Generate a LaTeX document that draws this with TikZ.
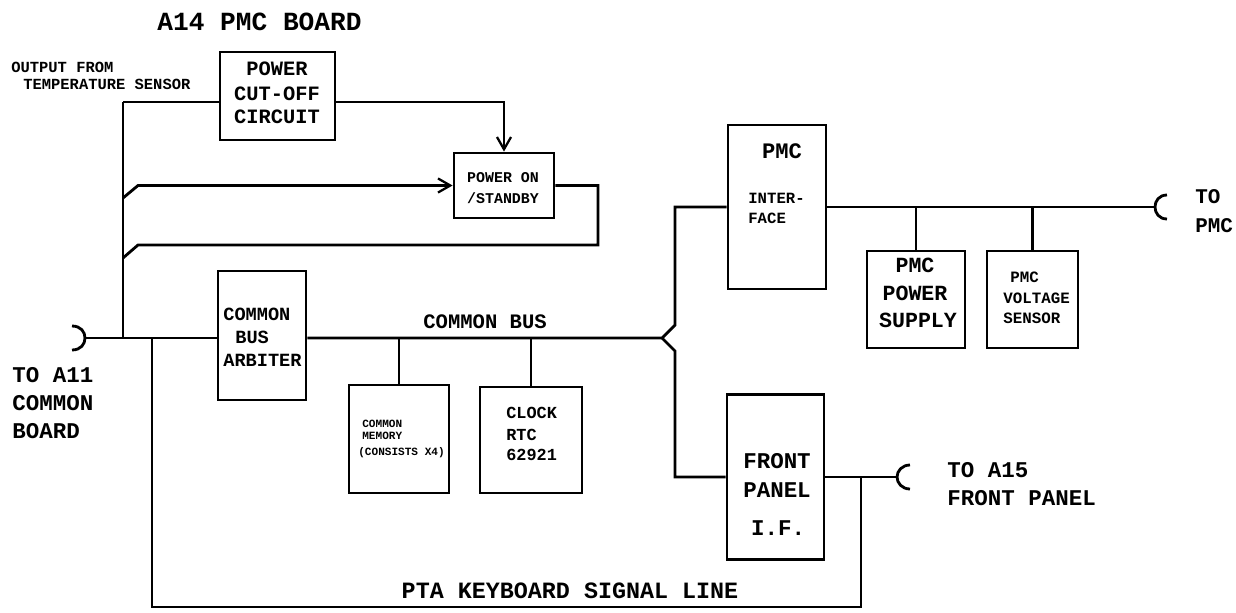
\documentclass[tikz,border=0pt]{standalone}
\usepackage{fontspec}
\setmonofont{Liberation Mono}
\usetikzlibrary{arrows.meta}
\tikzset{
  wire/.style={line width=1.6pt, line join=miter},
  box/.style={draw, line width=1.6pt, inner sep=0pt},
  tl/.style={inner sep=0pt, anchor=base west, font=\ttfamily\bfseries\fontsize{#1}{#1}\selectfont},
  tc/.style={inner sep=0pt, anchor=base, font=\ttfamily\bfseries\fontsize{#1}{#1}\selectfont},
  arr/.style={-{Straight Barb[length=7pt,width=8pt,line width=1.3pt]}}
}
\begin{document}
\begin{tikzpicture}[x=0.02cm,y=-0.02cm]
\useasboundingbox (0,0) rectangle (1236,612);

% boxes
\node[box, minimum width=2.3cm, minimum height=1.76cm] (cut) at (277.5,96) {};
\node[box, minimum width=2.0cm, minimum height=1.3cm] (pon) at (504,185.5) {};
\node[box, minimum width=1.76cm, minimum height=2.58cm] (arb) at (262,335.5) {};
\node[box, minimum width=2.0cm, minimum height=2.16cm] (mem) at (399,439) {};
\node[box, minimum width=2.04cm, minimum height=2.12cm] (clk) at (531,440) {};
\node[box, minimum width=1.96cm, minimum height=3.28cm] (pif) at (777,207) {};
\node[box, minimum width=1.96cm, minimum height=1.94cm] (pps) at (916,299.5) {};
\node[box, minimum width=1.82cm, minimum height=1.94cm] (pvs) at (1032.5,299.5) {};
\node[box, minimum width=1.94cm, minimum height=3.3cm] (fp) at (775.5,477) {};

% texts
\node[tl=14.9] (title) at (157,31) {A14 PMC BOARD};
\node[tl=8.8] (temp1) at (11,72) {OUTPUT FROM};
\node[tl=8.8] (temp2) at (23,89) {TEMPERATURE SENSOR};

\node[tc=11.6] (cut1) at (277,75) {POWER};
\node[tc=11.6] (cut2) at (277,100) {CUT-OFF};
\node[tc=11.6] (cut3) at (277,123) {CIRCUIT};

\node[tc=8.5] (pon1) at (503,182) {POWER ON};
\node[tc=8.5] (pon2) at (503,203) {/STANDBY};

\node[tl=10.6] (arb1) at (223,320) {COMMON};
\node[tl=10.6] (arb2) at (235,343) {BUS};
\node[tl=10.6] (arb3) at (223,366) {ARBITER};

\node[tl=11.7] (cbus) at (423,328) {COMMON BUS};

\node[tl=6.3] (mem1) at (362,427) {COMMON};
\node[tl=6.3] (mem2) at (362,439) {MEMORY};
\node[tl=6.3] (mem3) at (358,455) {(CONSISTS X4)};

\node[tl=9.6] (clk1) at (506,418) {CLOCK};
\node[tl=9.6] (clk2) at (506,440) {RTC};
\node[tl=9.6] (clk3) at (506,460) {62921};

\node[tc=12.6] (pif1) at (782,158) {PMC};
\node[tl=8.9] (pif2) at (748,203) {INTER-};
\node[tl=8.9] (pif3) at (748,223) {FACE};

\node[tc=12.3] (pps1) at (915,272) {PMC};
\node[tc=12.3] (pps2) at (915,300) {POWER};
\node[tc=12.3] (pps3) at (918,327) {SUPPLY};

\node[tl=9] (pvs1) at (1010,282) {PMC};
\node[tl=9] (pvs2) at (1003,303) {VOLTAGE};
\node[tl=9] (pvs3) at (1003,323) {SENSOR};

\node[tc=12.8] (fp1) at (777,468) {FRONT};
\node[tc=12.8] (fp2) at (777,497) {PANEL};
\node[tc=12.8] (fp3) at (778,535) {I.F.};

\node[tl=12.8] (a15a) at (947,477) {TO A15};
\node[tl=12.8] (a15b) at (947,505) {FRONT PANEL};

\node[tl=11.9] (pmca) at (1195,203) {TO};
\node[tl=11.9] (pmcb) at (1195,232) {PMC};

\node[tl=12.8] (a11a) at (12,382) {TO A11};
\node[tl=12.8] (a11b) at (12,410) {COMMON};
\node[tl=12.8] (a11c) at (12,438) {BOARD};

\node[tc=13.3] (pta) at (570,598) {PTA KEYBOARD SIGNAL LINE};

% coordinates
\coordinate (a11) at (85,338);
\coordinate (t1) at (123,102);
\coordinate (j1) at (123,338);
\coordinate (j2) at (152,338);
\coordinate (m1) at (123,198);
\coordinate (m2) at (123,258);
\coordinate (sp) at (662,338);
\coordinate (pmcc) at (1155,207);
\coordinate (fpc) at (897,477);
\coordinate (fpj) at (861,477);

% connectors
\draw[wire] (72,326) .. controls (81,326) and (85,332) .. (a11) .. controls (85,344) and (81,350) .. (72,350);
\draw[wire] (a11) -- (arb.west |- a11);
\draw[wire] (t1) -- (j1);
\draw[wire] (t1) -- (cut.west |- t1);
\draw[wire,arr] (cut.east |- t1) -| (pon.north);
\draw[wire,arr] (m1) -- (138,185.5) -- (pon.west);
\draw[wire] (pon.east) -- (598,185.5) |- (138,245) -- (m2);
\draw[wire] (j2) -- (152,607) -| (fpj);

\draw[wire] (arb.east |- a11) -- (sp) -- (675,325) |- (pif.west);
\draw[wire] (sp) -- (675,351) |- (fp.west);
\draw[wire] (mem.north) -- (mem.north |- a11);
\draw[wire] (clk.north) -- (clk.north |- a11);

\draw[wire] (pif.east) -- (pmcc);
\draw[wire] (1167,195) .. controls (1159,195) and (1155,201) .. (pmcc) .. controls (1155,213) and (1159,219) .. (1167,219);
\draw[wire] (pps.north) -- (pps.north |- pif.east);
\draw[wire] (pvs.north) -- (pvs.north |- pif.east);

\draw[wire] (fp.east) -- (fpc);
\draw[wire] (910,465) .. controls (902,465) and (897,471) .. (fpc) .. controls (897,483) and (902,489) .. (910,489);
\end{tikzpicture}
\end{document}
